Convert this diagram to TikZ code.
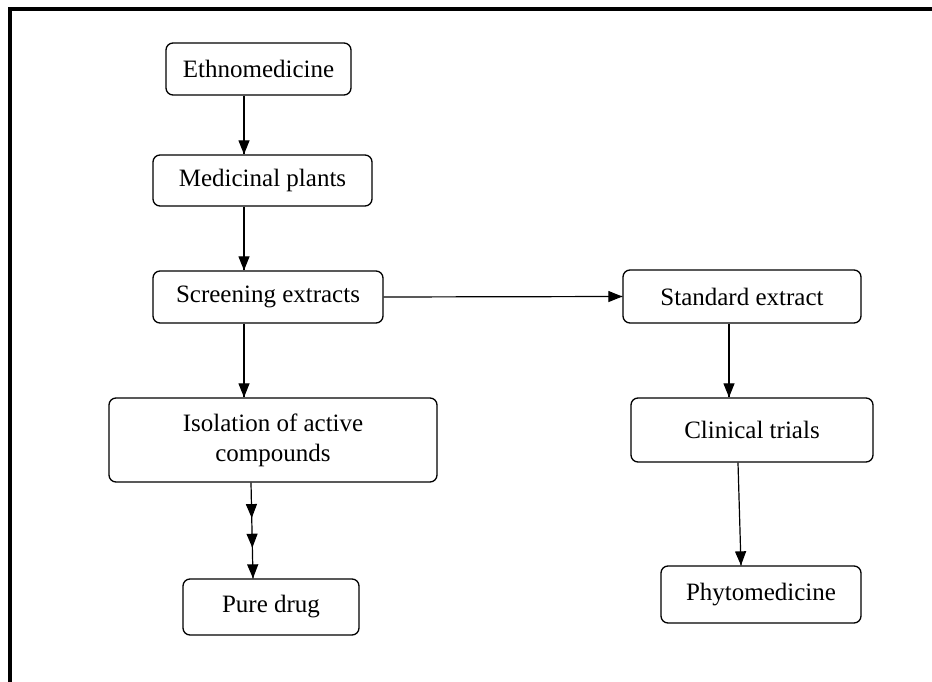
\documentclass[tikz,border=0pt]{standalone}
\usepackage{fontspec}
\setmainfont{Liberation Serif}
\usepackage{tikz}
\usetikzlibrary{arrows.meta}
\usetikzlibrary{decorations.markings}
\usetikzlibrary{positioning}
\tikzset{arr/.style = {decoration={markings,
                                   mark=at position 1 with {\arrow{Triangle[length=14pt, width=11pt]}}},
                       postaction={decorate}}}
\tikzset{arrr/.style = {decoration={markings,
                                    mark=at position 0.37 with {\arrow{Triangle[length=14pt, width=11pt]}},
                                    mark=at position 0.68 with {\arrow{Triangle[length=14pt, width=11pt]}},
                                    mark=at position 1 with {\arrow{Triangle[length=14pt, width=11pt]}}},
                        postaction={decorate}}}
\tikzset{box/.style = {draw, rounded corners=7pt, line width=1.3pt, inner sep=0,
                       align=center, font=\fontsize{25}{30}\selectfont}}

\begin{document}
\begin{tikzpicture}[x=1pt, y=-1pt, line width=1.2pt]
    \useasboundingbox (0, 0) rectangle (932, 682);
    \draw [line width=4pt] (10, 682) -- (10, 9.5) -- (932, 9.5);

    \node [box, minimum width=185, minimum height=52] (ethno) at (258.5, 69) {Ethnomedicine};
    \node [box, minimum width=219, minimum height=51] (plants) at (262.5, 180.5) {Medicinal plants};
    \node [box, minimum width=230, minimum height=52] (screen) at (268, 297) {Screening extracts};
    \node [box, minimum width=328, minimum height=84] (iso) at (273, 440) {Isolation of active\\compounds};
    \node [box, minimum width=176, minimum height=56] (pure) at (271, 607) {Pure drug};

    \node [box, minimum width=238, minimum height=53] (standard) at (742, 296.5) {Standard extract};
    \node [box, minimum width=242, minimum height=64] (clinical) at (752, 430) {Clinical trials};
    \node [box, minimum width=200, minimum height=57] (phyto) at (761, 594.5) {Phytomedicine};

    % vertical lanes of the arrows
    \coordinate (lane) at (244, 0);
    \coordinate (lanetwo) at (729, 0);

    \draw [arr] (ethno.south -| lane) -- (plants.north -| lane);
    \draw [arr] (plants.south -| lane) -- (screen.north -| lane);
    \draw [arr] (screen.south -| lane) -- (iso.north -| lane);
    \draw [arrr] ([xshift=-22]iso.south) -- ([xshift=-18]pure.north);

    \draw [arr] (screen.east) -- (standard.west);
    \draw [arr] (standard.south -| lanetwo) -- (clinical.north -| lanetwo);
    \draw [arr] ([xshift=-14]clinical.south) -- ([xshift=-20]phyto.north);
  \end{tikzpicture}
\end{document}
